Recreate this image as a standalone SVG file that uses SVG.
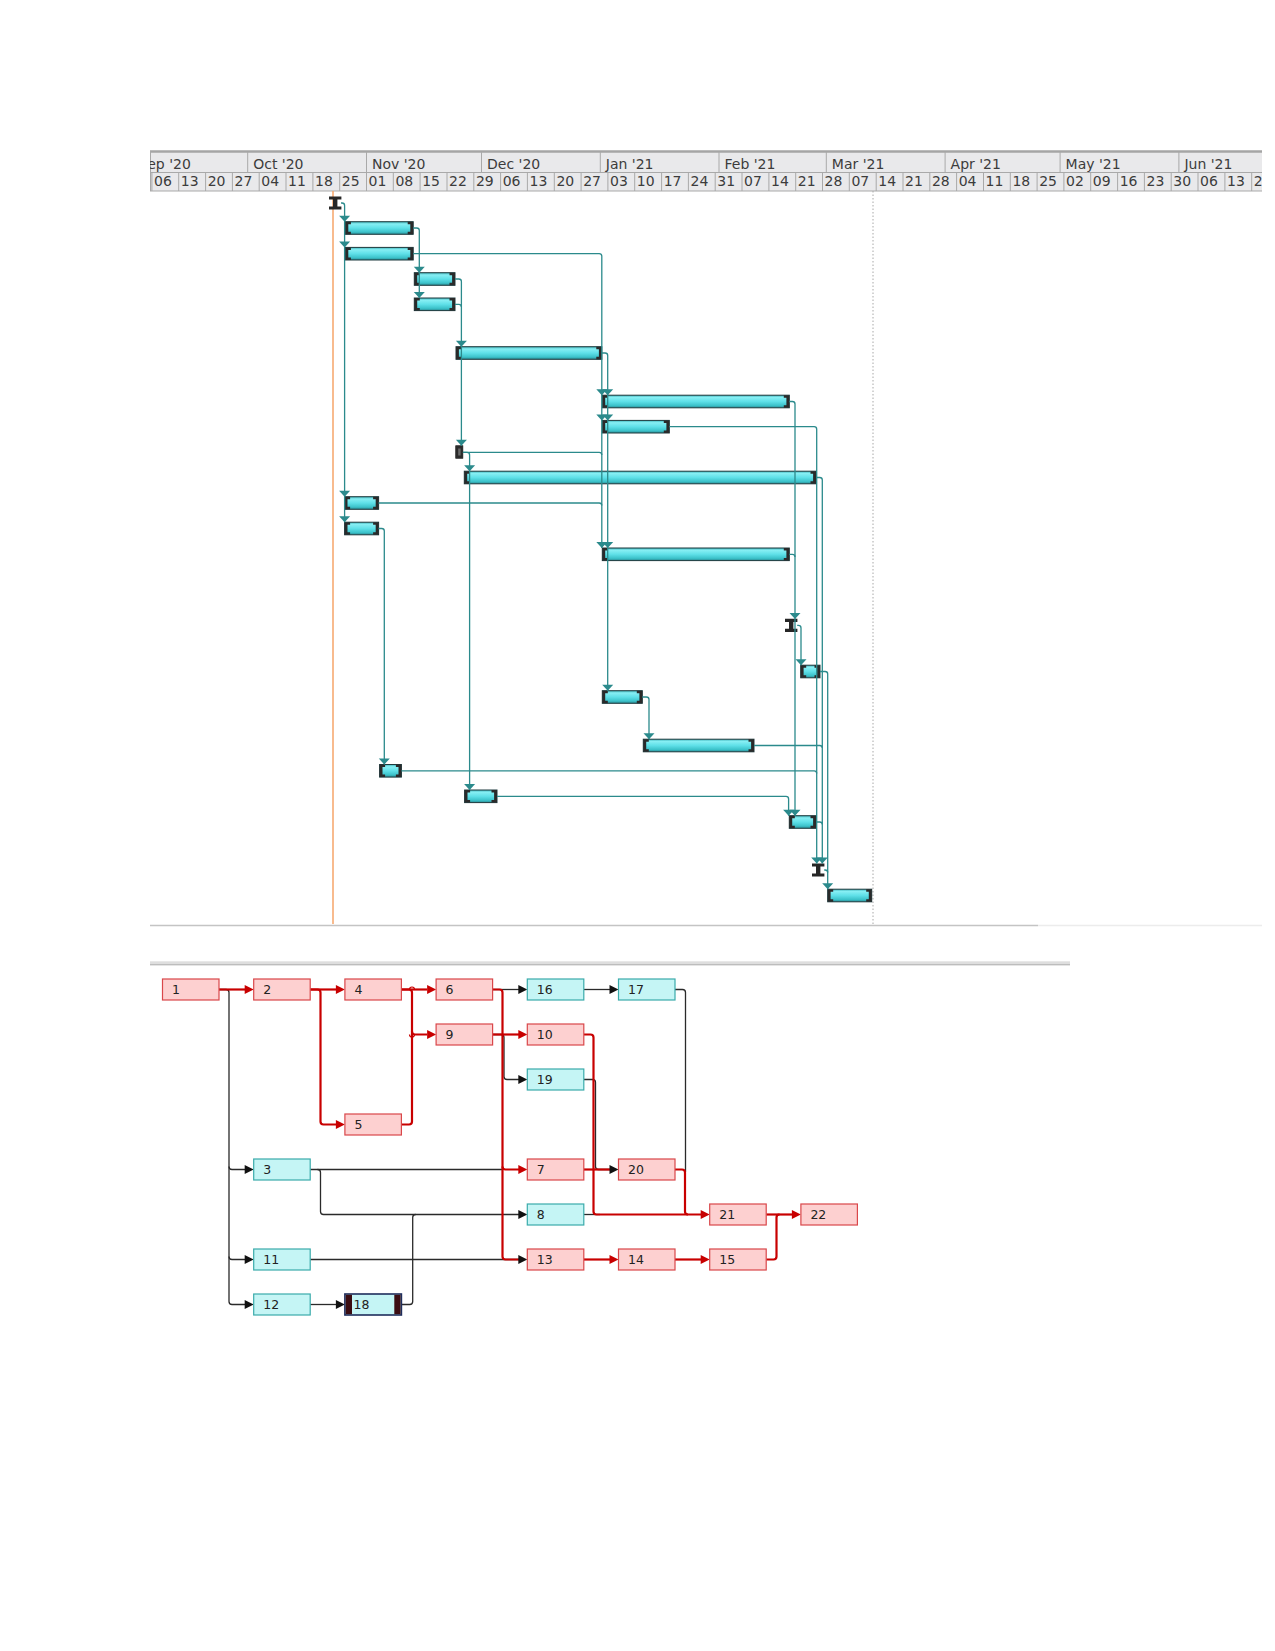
<svg xmlns="http://www.w3.org/2000/svg" xmlns:xlink="http://www.w3.org/1999/xlink" width="1275" height="1651" viewBox="0 0 1275 1651">
<style>
.hdr{fill:#e9e9eb}
.hl{stroke:#a9a9a9;stroke-width:1;fill:none}
.ht{font-family:"DejaVu Sans",Verdana,sans-serif;font-size:14px;fill:#3c3c3c}
.bar{fill:url(#bg);stroke:#1e3a3e;stroke-width:1}
.cap{fill:#2a2a2a}
.ms{fill:#262626}
.gl{stroke:#2b8a8c;stroke-width:1.3;fill:none}
.ga{fill:#2b8a8c}
.nr{fill:#fdd0d0;stroke:#d9474a;stroke-width:1.2}
.nc{fill:#c5f5f5;stroke:#3aabab;stroke-width:1.2}
.nt{font-family:"DejaVu Sans",Verdana,sans-serif;font-size:12.5px;fill:#222}
.rl{stroke:#c80000;stroke-width:2.2;fill:none}
.bl{stroke:#2a2a2a;stroke-width:1.3;fill:none}
.ra{fill:#c80000}
.ba{fill:#111}
</style>
<defs>
<linearGradient id="bg" x1="0" y1="0" x2="0" y2="1">
<stop offset="0" stop-color="#3fb3ba"/>
<stop offset="0.18" stop-color="#86eef3"/>
<stop offset="0.5" stop-color="#5fe0e8"/>
<stop offset="0.82" stop-color="#3cc2ca"/>
<stop offset="1" stop-color="#2a8a92"/>
</linearGradient>
<clipPath id="hc"><rect x="150" y="150" width="1112" height="42"/></clipPath>
<path id="capL" d="M0,-6.3 h5.5 v2.6 h-2.6 v7.4 h2.6 v2.6 h-5.5 z"/>
<path id="capR" d="M0,-6.3 h-5.5 v2.6 h2.6 v7.4 h-2.6 v2.6 h5.5 z"/>
<path id="msp" d="M-6.2,-6.6 h12.4 v3.2 h-4 v6.8 h4 v3.2 h-12.4 v-3.2 h4 v-6.8 h-4 z"/>
<path id="ga" d="M-5.5,-6 H5.5 L0,0 Z"/>
<path id="na" d="M-9,-4.6 L0,0 L-9,4.6 Z"/>
</defs>
<rect width="1275" height="1651" fill="#ffffff"/>

<g id="timescale" clip-path="url(#hc)">
<rect class="hdr" x="150" y="151" width="1112" height="40"/>
<line x1="150" y1="151.5" x2="1262" y2="151.5" stroke="#a5a5a5" stroke-width="2.5"/>
<line class="hl" x1="150" y1="172.5" x2="1262" y2="172.5"/>
<line class="hl" x1="150" y1="191" x2="1262" y2="191"/>
<line class="hl" x1="150.5" y1="151" x2="150.5" y2="191"/>
<g class="hl">
<line x1="247.7" y1="152" x2="247.7" y2="172.5"/>
<line x1="366.5" y1="152" x2="366.5" y2="172.5"/>
<line x1="481.5" y1="152" x2="481.5" y2="172.5"/>
<line x1="600.3" y1="152" x2="600.3" y2="172.5"/>
<line x1="719" y1="152" x2="719" y2="172.5"/>
<line x1="826.3" y1="152" x2="826.3" y2="172.5"/>
<line x1="945.1" y1="152" x2="945.1" y2="172.5"/>
<line x1="1060.1" y1="152" x2="1060.1" y2="172.5"/>
<line x1="1178.9" y1="152" x2="1178.9" y2="172.5"/>
</g>
<g class="ht">
<text x="138.3" y="168.5">Sep '20</text>
<text x="253.2" y="168.5">Oct '20</text>
<text x="372" y="168.5">Nov '20</text>
<text x="487" y="168.5">Dec '20</text>
<text x="605.8" y="168.5">Jan '21</text>
<text x="724.5" y="168.5">Feb '21</text>
<text x="831.8" y="168.5">Mar '21</text>
<text x="950.6" y="168.5">Apr '21</text>
<text x="1065.6" y="168.5">May '21</text>
<text x="1184.4" y="168.5">Jun '21</text>
</g>
<path class="hl" d="M151.9,172.5V191 M178.7,172.5V191 M205.6,172.5V191 M232.4,172.5V191 M259.2,172.5V191 M286,172.5V191 M312.9,172.5V191 M339.7,172.5V191 M366.5,172.5V191 M393.3,172.5V191 M420.1,172.5V191 M447,172.5V191 M473.8,172.5V191 M500.6,172.5V191 M527.4,172.5V191 M554.3,172.5V191 M581.1,172.5V191 M607.9,172.5V191 M634.7,172.5V191 M661.6,172.5V191 M688.4,172.5V191 M715.2,172.5V191 M742,172.5V191 M768.9,172.5V191 M795.7,172.5V191 M822.5,172.5V191 M849.3,172.5V191 M876.2,172.5V191 M903,172.5V191 M929.8,172.5V191 M956.6,172.5V191 M983.5,172.5V191 M1010.3,172.5V191 M1037.1,172.5V191 M1063.9,172.5V191 M1090.7,172.5V191 M1117.6,172.5V191 M1144.4,172.5V191 M1171.2,172.5V191 M1198,172.5V191 M1224.9,172.5V191 M1251.7,172.5V191"/>
<g class="ht">
<text x="154" y="186">06</text><text x="180.8" y="186">13</text><text x="207.7" y="186">20</text><text x="234.5" y="186">27</text>
<text x="261.3" y="186">04</text><text x="288.1" y="186">11</text><text x="315" y="186">18</text><text x="341.8" y="186">25</text>
<text x="368.6" y="186">01</text><text x="395.4" y="186">08</text><text x="422.2" y="186">15</text><text x="449.1" y="186">22</text>
<text x="475.9" y="186">29</text><text x="502.7" y="186">06</text><text x="529.5" y="186">13</text><text x="556.4" y="186">20</text>
<text x="583.2" y="186">27</text><text x="610" y="186">03</text><text x="636.8" y="186">10</text><text x="663.7" y="186">17</text>
<text x="690.5" y="186">24</text><text x="717.3" y="186">31</text><text x="744.1" y="186">07</text><text x="771" y="186">14</text>
<text x="797.8" y="186">21</text><text x="824.6" y="186">28</text><text x="851.4" y="186">07</text><text x="878.3" y="186">14</text>
<text x="905.1" y="186">21</text><text x="931.9" y="186">28</text><text x="958.7" y="186">04</text><text x="985.6" y="186">11</text>
<text x="1012.4" y="186">18</text><text x="1039.2" y="186">25</text><text x="1066" y="186">02</text><text x="1092.8" y="186">09</text>
<text x="1119.7" y="186">16</text><text x="1146.5" y="186">23</text><text x="1173.3" y="186">30</text><text x="1200.1" y="186">06</text>
<text x="1227" y="186">13</text><text x="1253.8" y="186">20</text>
</g>
</g>

<g id="gantt-frame">
<line x1="873" y1="191" x2="873" y2="926" stroke="#a8a8a8" stroke-width="1" stroke-dasharray="1.5,2"/>
<line x1="150" y1="925.5" x2="1038" y2="925.5" stroke="#c4c4c4" stroke-width="1.5"/>
<line x1="1038" y1="925.5" x2="1262" y2="925.5" stroke="#ececec" stroke-width="1.5"/>
<line x1="333" y1="191" x2="333" y2="924" stroke="#f6a468" stroke-width="1.5"/>
</g>

<g id="gantt-bars">
<g id="g1"><use href="#msp" class="ms" x="335.2" y="203"/></g>
<g id="g2"><rect class="bar" x="345.4" y="221.7" width="67.8" height="12.6"/><use href="#capL" class="cap" x="345.4" y="228"/><use href="#capR" class="cap" x="413.2" y="228"/></g>
<g id="g3"><rect class="bar" x="345.4" y="247.4" width="67.8" height="12.6"/><use href="#capL" class="cap" x="345.4" y="253.7"/><use href="#capR" class="cap" x="413.2" y="253.7"/></g>
<g id="g4"><rect class="bar" x="414.3" y="272.7" width="40.7" height="12.6"/><use href="#capL" class="cap" x="414.3" y="279"/><use href="#capR" class="cap" x="455" y="279"/></g>
<g id="g5"><rect class="bar" x="414.3" y="298" width="40.7" height="12.6"/><use href="#capL" class="cap" x="414.3" y="304.3"/><use href="#capR" class="cap" x="455" y="304.3"/></g>
<g id="g6"><rect class="bar" x="456" y="346.7" width="145.8" height="12.6"/><use href="#capL" class="cap" x="456" y="353"/><use href="#capR" class="cap" x="601.8" y="353"/></g>
<g id="g7"><rect class="bar" x="602.3" y="395.2" width="187" height="12.6"/><use href="#capL" class="cap" x="602.3" y="401.5"/><use href="#capR" class="cap" x="789.3" y="401.5"/></g>
<g id="g8"><rect class="bar" x="602.3" y="420.4" width="67" height="12.6"/><use href="#capL" class="cap" x="602.3" y="426.7"/><use href="#capR" class="cap" x="669.3" y="426.7"/></g>
<g id="g9"><rect x="455.7" y="445.7" width="7.2" height="12.6" fill="#2b2b2b" stroke="#1a1a1a" stroke-width="0.6"/><rect x="458.2" y="448.5" width="2.4" height="7" fill="#6a6a6a"/></g>
<g id="g10"><rect class="bar" x="464.3" y="471.2" width="351.7" height="12.6"/><use href="#capL" class="cap" x="464.3" y="477.5"/><use href="#capR" class="cap" x="816" y="477.5"/></g>
<g id="g11"><rect class="bar" x="344.6" y="496.7" width="34" height="12.6"/><use href="#capL" class="cap" x="344.6" y="503"/><use href="#capR" class="cap" x="378.6" y="503"/></g>
<g id="g12"><rect class="bar" x="344.6" y="522.2" width="34" height="12.6"/><use href="#capL" class="cap" x="344.6" y="528.5"/><use href="#capR" class="cap" x="378.6" y="528.5"/></g>
<g id="g13"><rect class="bar" x="602.3" y="548" width="187" height="12.6"/><use href="#capL" class="cap" x="602.3" y="554.3"/><use href="#capR" class="cap" x="789.3" y="554.3"/></g>
<g id="g14"><use href="#msp" class="ms" x="791.2" y="625.4"/></g>
<g id="g15"><rect class="bar" x="800.7" y="665.2" width="19.3" height="12.6"/><use href="#capL" class="cap" x="800.7" y="671.5"/><use href="#capR" class="cap" x="820" y="671.5"/></g>
<g id="g16"><rect class="bar" x="602.3" y="690.7" width="40" height="12.6"/><use href="#capL" class="cap" x="602.3" y="697"/><use href="#capR" class="cap" x="642.3" y="697"/></g>
<g id="g17"><rect class="bar" x="643.3" y="739.2" width="110.7" height="12.6"/><use href="#capL" class="cap" x="643.3" y="745.5"/><use href="#capR" class="cap" x="754" y="745.5"/></g>
<g id="g18"><rect class="bar" x="379.6" y="764.5" width="21.8" height="12.6"/><use href="#capL" class="cap" x="379.6" y="770.8"/><use href="#capR" class="cap" x="401.4" y="770.8"/></g>
<g id="g19"><rect class="bar" x="464.6" y="790" width="32.4" height="12.6"/><use href="#capL" class="cap" x="464.6" y="796.3"/><use href="#capR" class="cap" x="497" y="796.3"/></g>
<g id="g20"><rect class="bar" x="789.3" y="815.7" width="26.7" height="12.6"/><use href="#capL" class="cap" x="789.3" y="822"/><use href="#capR" class="cap" x="816" y="822"/></g>
<g id="g21"><use href="#msp" class="ms" x="818.2" y="870"/></g>
<g id="g22"><rect class="bar" x="827.7" y="889.2" width="44" height="12.6"/><use href="#capL" class="cap" x="827.7" y="895.5"/><use href="#capR" class="cap" x="871.7" y="895.5"/></g>
</g>

<g id="gantt-links">
<g class="gl">
<path d="M341,203 H342 Q344.6,203 344.6,205.6 V522.2"/>
<path d="M413.2,228 H416.7 Q419.3,228 419.3,230.6 V298"/>
<path d="M413.2,253.7 H599.2 Q601.8,253.7 601.8,256.3 V548"/>
<path d="M455,279 H458.8 Q461.4,279 461.4,281.6 V445.7"/>
<path d="M455,304.3 H458.8 Q461.4,304.3 461.4,306.9"/>
<path d="M601.8,353 H605.1 Q607.7,353 607.7,355.6 V690.7"/>
<path d="M789.3,401.5 H792.4 Q795,401.5 795,404.1 V815.7"/>
<path d="M669.3,426.7 H814.1 Q816.7,426.7 816.7,429.3 V863.5"/>
<path d="M462.9,452.3 H599.2 Q601.8,452.3 601.8,454.9"/>
<path d="M462.9,452.3 H467 Q469.6,452.3 469.6,454.9 V790"/>
<path d="M816,477.5 H819.7 Q822.3,477.5 822.3,480.1 V863.5"/>
<path d="M378.6,503 H599.2 Q601.8,503 601.8,505.6"/>
<path d="M378.6,528.5 H381.7 Q384.3,528.5 384.3,531.1 V764.5"/>
<path d="M789.3,554.3 H792.4 Q795,554.3 795,556.9"/>
<path d="M797.2,625.4 H798.4 Q801,625.4 801,628 V665.2"/>
<path d="M820,671.5 H825.1 Q827.7,671.5 827.7,674.1 V889.2"/>
<path d="M642.3,697 H646.4 Q649,697 649,699.6 V739.2"/>
<path d="M754,745.5 H819.7 Q822.3,745.5 822.3,748.1"/>
<path d="M401.4,770.8 H814.1 Q816.7,770.8 816.7,773.4"/>
<path d="M497,796.3 H786 Q788.6,796.3 788.6,798.9 V815.7"/>
<path d="M816,822 H819.7 Q822.3,822 822.3,824.6"/>
<path d="M824.2,870 H825.1 Q827.7,870 827.7,872.6"/>
</g>
<g class="ga">
<use href="#ga" x="344.6" y="221.7"/><use href="#ga" x="344.6" y="247.4"/><use href="#ga" x="344.6" y="496.7"/><use href="#ga" x="344.6" y="522.2"/>
<use href="#ga" x="419.3" y="272.7"/><use href="#ga" x="419.3" y="298"/>
<use href="#ga" x="461.4" y="346.7"/><use href="#ga" x="461.4" y="445.7"/>
<use href="#ga" x="601.8" y="395.2"/><use href="#ga" x="601.8" y="420.4"/><use href="#ga" x="601.8" y="548"/>
<use href="#ga" x="607.7" y="395.2"/><use href="#ga" x="607.7" y="420.4"/><use href="#ga" x="607.7" y="548"/><use href="#ga" x="607.7" y="690.7"/>
<use href="#ga" x="469.6" y="471.2"/><use href="#ga" x="469.6" y="790"/>
<use href="#ga" x="384.3" y="764.5"/>
<use href="#ga" x="795" y="618.9"/><use href="#ga" x="795" y="815.7"/><use href="#ga" x="788.6" y="815.7"/>
<use href="#ga" x="816.7" y="863.5"/><use href="#ga" x="822.3" y="863.5"/>
<use href="#ga" x="801" y="665.2"/>
<use href="#ga" x="649" y="739.2"/>
<use href="#ga" x="827.7" y="889.2"/>
</g>
</g>

<g id="separator">
<rect x="150" y="961.3" width="920" height="3.2" fill="#dedede"/>
<line x1="150" y1="964.8" x2="1070" y2="964.8" stroke="#a8a8a8" stroke-width="1"/>
</g>

<g id="network-links">
<g class="bl">
<path d="M219,989.5 H226 Q229,989.5 229,992.5 V1301.5 Q229,1304.5 232,1304.5 H245"/>
<path d="M229,1166.5 Q229,1169.5 232,1169.5 H245"/>
<path d="M229,1256.5 Q229,1259.5 232,1259.5 H245"/>
<path d="M310.2,1169.5 H502"/>
<path d="M317.5,1169.5 Q320.5,1169.5 320.5,1172.5 V1211.5 Q320.5,1214.5 323.5,1214.5 H519"/>
<path d="M401.4,1304.5 H409.7 Q412.7,1304.5 412.7,1301.5 V1217.5 Q412.7,1214.5 415.7,1214.5"/>
<path d="M310.2,1259.5 H519"/>
<path d="M310.2,1304.5 H336"/>
<path d="M492.6,989.5 H519"/>
<path d="M492.6,1034.5 H501 Q504,1034.5 504,1037.5 V1076.5 Q504,1079.5 507,1079.5 H519"/>
<path d="M583.8,989.5 H610"/>
<path d="M675,989.5 H682.5 Q685.5,989.5 685.5,992.5 V1172"/>
<path d="M583.8,1079.5 H592.5 Q595.5,1079.5 595.5,1082.5 V1166.5 Q595.5,1169.5 598.5,1169.5 H610"/>
<path d="M583.8,1214.5 H600"/>
</g>
<g class="rl">
<path d="M219,989.5 H245"/>
<path d="M310.2,989.5 H336"/>
<path d="M310.2,989.5 H317.5 Q320.5,989.5 320.5,992.5 V1121.5 Q320.5,1124.5 323.5,1124.5 H336"/>
<path d="M401.4,989.5 H427"/>
<path d="M401.4,989.5 H409 Q412,989.5 412,992.5 V1121.5 Q412,1124.5 409,1124.5 H401.4"/>
<path d="M412,1031.5 Q412,1034.5 415,1034.5 H427"/>
<path d="M492.6,989.5 H499.5 Q502.5,989.5 502.5,992.5 V1256.5 Q502.5,1259.5 505.5,1259.5 H519"/>
<path d="M502.5,1166.5 Q502.5,1169.5 505.5,1169.5 H519"/>
<path d="M492.6,1034.5 H519"/>
<path d="M583.8,1034.5 H590.5 Q593.5,1034.5 593.5,1037.5 V1211.5 Q593.5,1214.5 596.5,1214.5 H701"/>
<path d="M583.8,1169.5 H610"/>
<path d="M675,1169.5 H682 Q685,1169.5 685,1172.5 V1211.5 Q685,1214.5 688,1214.5"/>
<path d="M766.2,1214.5 H792"/>
<path d="M583.8,1259.5 H610"/>
<path d="M675,1259.5 H701"/>
<path d="M766.2,1259.5 H773.5 Q776.5,1259.5 776.5,1256.5 V1217.5 Q776.5,1214.5 779.5,1214.5"/>
</g>
<g fill="none" stroke="#c80000" stroke-width="1.2">
<path d="M409.5,989.5 A2.5,2.5 0 0 1 414.5,989.5"/>
<path d="M409.5,1034.5 A2.5,2.5 0 0 0 414.5,1034.5"/>
</g>
<g class="ba">
<use href="#na" x="253.7" y="1169.5"/><use href="#na" x="253.7" y="1259.5"/><use href="#na" x="253.7" y="1304.5"/>
<use href="#na" x="344.9" y="1304.5"/>
<use href="#na" x="527.3" y="989.5"/><use href="#na" x="527.3" y="1079.5"/><use href="#na" x="527.3" y="1214.5"/><use href="#na" x="527.3" y="1259.5"/>
<use href="#na" x="618.5" y="989.5"/><use href="#na" x="618.5" y="1169.5"/>
</g>
<g class="ra">
<use href="#na" x="253.7" y="989.5"/><use href="#na" x="344.9" y="989.5"/><use href="#na" x="344.9" y="1124.5"/>
<use href="#na" x="436.1" y="989.5"/><use href="#na" x="436.1" y="1034.5"/>
<use href="#na" x="527.3" y="1034.5"/><use href="#na" x="527.3" y="1169.5"/>
<use href="#na" x="618.5" y="1259.5"/><use href="#na" x="709.7" y="1259.5"/><use href="#na" x="709.7" y="1214.5"/>
<use href="#na" x="800.9" y="1214.5"/>
</g>
</g>

<g id="network-nodes">
<g id="n1"><rect class="nr" x="162.5" y="979" width="56.5" height="21"/><text class="nt" x="172" y="994">1</text></g>
<g id="n2"><rect class="nr" x="253.7" y="979" width="56.5" height="21"/><text class="nt" x="263.2" y="994">2</text></g>
<g id="n4"><rect class="nr" x="344.9" y="979" width="56.5" height="21"/><text class="nt" x="354.4" y="994">4</text></g>
<g id="n6"><rect class="nr" x="436.1" y="979" width="56.5" height="21"/><text class="nt" x="445.6" y="994">6</text></g>
<g id="n16"><rect class="nc" x="527.3" y="979" width="56.5" height="21"/><text class="nt" x="536.8" y="994">16</text></g>
<g id="n17"><rect class="nc" x="618.5" y="979" width="56.5" height="21"/><text class="nt" x="628" y="994">17</text></g>
<g id="n9"><rect class="nr" x="436.1" y="1024" width="56.5" height="21"/><text class="nt" x="445.6" y="1039">9</text></g>
<g id="n10"><rect class="nr" x="527.3" y="1024" width="56.5" height="21"/><text class="nt" x="536.8" y="1039">10</text></g>
<g id="n19"><rect class="nc" x="527.3" y="1069" width="56.5" height="21"/><text class="nt" x="536.8" y="1084">19</text></g>
<g id="n5"><rect class="nr" x="344.9" y="1114" width="56.5" height="21"/><text class="nt" x="354.4" y="1129">5</text></g>
<g id="n3"><rect class="nc" x="253.7" y="1159" width="56.5" height="21"/><text class="nt" x="263.2" y="1174">3</text></g>
<g id="n7"><rect class="nr" x="527.3" y="1159" width="56.5" height="21"/><text class="nt" x="536.8" y="1174">7</text></g>
<g id="n20"><rect class="nr" x="618.5" y="1159" width="56.5" height="21"/><text class="nt" x="628" y="1174">20</text></g>
<g id="n8"><rect class="nc" x="527.3" y="1204" width="56.5" height="21"/><text class="nt" x="536.8" y="1219">8</text></g>
<g id="n21"><rect class="nr" x="709.7" y="1204" width="56.5" height="21"/><text class="nt" x="719.2" y="1219">21</text></g>
<g id="n22"><rect class="nr" x="800.9" y="1204" width="56.5" height="21"/><text class="nt" x="810.4" y="1219">22</text></g>
<g id="n11"><rect class="nc" x="253.7" y="1249" width="56.5" height="21"/><text class="nt" x="263.2" y="1264">11</text></g>
<g id="n13"><rect class="nr" x="527.3" y="1249" width="56.5" height="21"/><text class="nt" x="536.8" y="1264">13</text></g>
<g id="n14"><rect class="nr" x="618.5" y="1249" width="56.5" height="21"/><text class="nt" x="628" y="1264">14</text></g>
<g id="n15"><rect class="nr" x="709.7" y="1249" width="56.5" height="21"/><text class="nt" x="719.2" y="1264">15</text></g>
<g id="n12"><rect class="nc" x="253.7" y="1294" width="56.5" height="21"/><text class="nt" x="263.2" y="1309">12</text></g>
<g id="n18"><rect x="344.9" y="1294" width="56.5" height="21" fill="#c5f5f5" stroke="#1f2d5c" stroke-width="1.6"/><rect x="345.7" y="1294.8" width="6.3" height="19.4" fill="#3b0d12"/><rect x="394.3" y="1294.8" width="6.3" height="19.4" fill="#3b0d12"/><text class="nt" x="353.6" y="1309">18</text></g>
</g>
</svg>
